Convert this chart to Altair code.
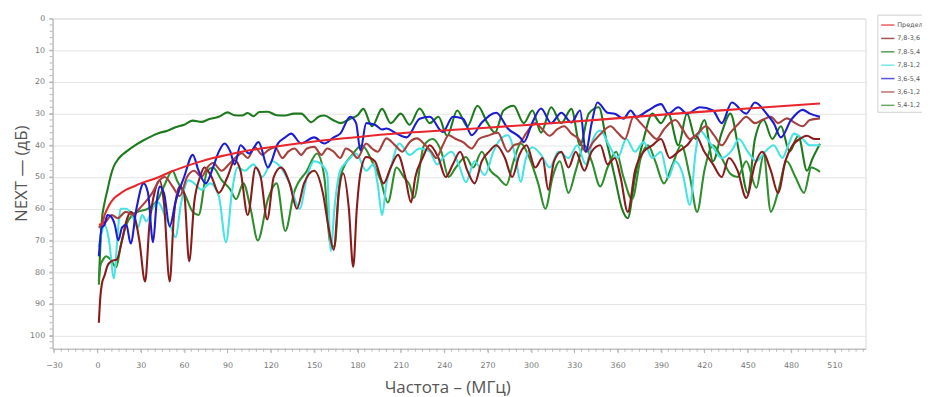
import altair as alt
import pandas as pd

# ---------------- data ----------------
NAMES = ["Предел", "7,8-3,6", "7,8-5,4", "7,8-1,2", "3,6-5,4", "3,6-1,2", "5,4-1,2"]
COLORS = ["#e8262b", "#8a1b1b", "#1e7a1e", "#45e3e3", "#1c1cd2", "#a5423d", "#2e8e2e"]

X_TICKS = list(range(-30, 511, 30))
Y_TICKS = list(range(0, 101, 10))

LIMIT_F = [1, 3, 5, 8, 11, 15, 20, 25, 30, 40, 50, 60, 70, 80, 90, 100, 125, 150, 175, 200, 250, 300, 350, 400, 450, 500]
LIMIT_DB = [65, 65, 62, 59, 57, 55.5, 54, 53, 52, 50.5, 48.5, 46.8, 45.3, 44, 43, 42, 40.3, 38.8, 37.6, 36.5, 35, 33.5, 31.8, 30, 28.4, 26.8]

P7854_F = [1, 2, 3, 5, 7, 9, 11, 15, 20, 26, 32, 38, 43, 48, 54, 60, 66, 72, 77, 84,
           90, 95, 100, 104, 108, 112, 118, 124, 130, 136, 141, 148, 153, 157, 163, 168, 175, 180, 184, 190,
           197, 203, 210, 216, 223, 230, 236, 242, 249, 256, 263, 270, 275, 281, 288, 295, 301, 307, 314, 321,
           328, 334, 340, 347, 352, 358, 363, 367, 372, 378, 384, 390, 395, 402, 408, 414, 420, 426, 432, 438,
           444, 450, 455, 461, 467, 473, 479, 485, 491, 495, 500]
P7854_DB = [83, 72, 64, 58, 54, 50, 47, 44, 42, 40, 38.4, 37, 36, 35.5, 34.3, 33.5, 32.2, 32.6, 31.8, 31,
            29.6, 30.5, 30.6, 29.8, 30.8, 29.5, 29.4, 30.5, 30.6, 30, 30, 32.7, 31, 30.6, 32, 33, 31.6, 30.5, 28.5, 34,
            28.5, 33, 30, 33.5, 28.4, 33, 31, 37, 29, 34, 27.5, 33, 36, 29, 27.5, 33, 29, 36, 28, 33,
            28.5, 40, 30, 28, 38, 50, 60, 63, 50, 38, 30, 33, 30, 40, 30, 38, 32, 45, 36, 30,
            42, 55, 38, 32, 38, 34, 42, 37, 48, 44, 39.5]

P5412_F = [1, 2, 4, 6, 9, 13, 16, 19.6, 24, 28, 35, 42, 46, 52, 55, 61, 66, 70, 76, 80,
           86, 92, 96, 101, 106, 111, 118, 124, 130, 136, 145, 152, 157, 161, 164, 168, 177, 183, 190, 196,
           201, 207, 212, 216, 219, 226, 232, 238, 243, 248, 255, 260, 266, 272, 277, 283, 288, 293, 299, 305,
           310, 315, 320, 326, 331, 337, 342, 348, 353, 359, 364, 370, 376, 381, 386, 392, 398, 404, 410, 415,
           420, 426, 432, 438, 443, 449, 456, 461, 466, 471, 477, 483, 489, 494, 500]
P5412_DB = [84, 78, 76, 75, 76, 78.5, 72, 65.6, 62, 61, 60, 57, 53, 48, 51, 56, 61, 62, 48, 47,
            51, 54, 57, 52, 60, 70, 57, 52, 67, 55, 48, 42.6, 50, 70.6, 72, 50, 42.6, 40, 45, 51,
            58, 47, 50, 52.5, 56.6, 40, 38, 42, 50, 47, 43.7, 47, 42, 48, 50, 52.5, 45, 39.4, 44, 52,
            60, 50, 45, 55, 48, 40, 45, 53, 47, 42, 50, 57, 44, 40, 45, 52, 46, 40, 50, 61,
            48, 40, 44, 49, 50, 45, 53.4, 43, 61, 54.7, 45, 50, 55, 47, 48.4]

P7812_F = [1, 3, 5, 8, 11.5, 14, 16, 20, 24, 28, 31, 34, 38, 42, 47, 51, 54, 58, 63, 67,
           72, 78, 84, 89, 93, 97, 102, 108, 114, 121, 127, 133, 140, 145, 150, 155, 159, 161.5, 164, 168,
           173, 179, 186, 191, 194, 197, 200, 203, 209, 216, 223, 230, 235, 239, 245, 250, 255, 261, 268, 274,
           279, 284, 289, 293, 296, 301, 307, 313, 319, 326, 332, 338, 343, 348, 354, 360, 366, 372, 378, 384,
           390, 395, 400, 405, 410, 414, 417, 422, 426, 432, 439, 444, 450, 456, 462, 468, 474, 478, 482, 488,
           493, 500]
P7812_DB = [72, 67.5, 65, 70, 82, 68, 60, 60, 62, 66, 62, 64, 60, 58, 62.5, 66, 69, 58, 51, 52,
            54, 52, 56, 70.6, 55, 47, 48, 46, 50, 45, 47, 52, 60, 50, 45, 46, 49, 73.4, 60, 48,
            45, 42.6, 48, 46, 52.5, 62, 52, 47, 39.4, 43, 41, 42, 46, 44, 42, 46, 51.6, 45, 49.4, 42,
            38, 36.8, 43, 51.6, 45, 40.6, 43, 47, 42, 44, 40, 46, 38, 35.3, 40, 44, 38, 42, 39, 44,
            42, 50.3, 45, 49, 58.8, 42, 35.3, 38, 40.6, 44, 41.6, 38, 42, 45, 42, 40, 44, 40, 36.3, 38,
            40, 40]

P3654_F = [1, 3, 5, 7, 9.5, 12, 14.5, 17, 20, 23, 27, 32, 35, 38.5, 41, 43, 46, 50, 54, 60,
           66, 70, 75, 80, 84, 88, 92, 95, 99, 105, 111.5, 118, 125, 130, 134, 141, 150, 157, 163.5, 168,
           175, 179, 182, 186, 192, 197, 200, 207, 214, 223, 230, 239, 246, 253, 259, 266, 276, 284, 293, 295,
           301, 307, 314, 321, 328, 334, 338, 342, 346, 353, 358, 364, 369, 373, 381, 390, 395, 402, 408, 417,
           426, 432, 439, 449, 455, 463, 468, 473, 480, 488, 493, 500]
P3654_DB = [75, 66, 65, 62, 62.5, 65, 70, 66, 65, 71, 60, 52, 55, 70.6, 58, 53, 55, 65.6, 58, 50,
            43, 48, 52, 47, 42, 39.4, 42, 46, 40, 42.6, 39, 47, 39.4, 37.5, 36.3, 39.4, 37.5, 39.4, 37.5, 36.3,
            31, 33, 41.6, 33, 33.5, 35, 34.7, 36.3, 37.5, 31.6, 31, 35.8, 31, 31.6, 36.8, 32.8, 29.7, 34.7, 37.8, 39,
            32.8, 28.4, 33, 29.7, 32.8, 29, 42, 33, 26.5, 29.7, 30, 31.6, 29, 31, 29, 27, 30, 28, 30, 28,
            29, 33, 26.5, 30, 26.5, 30, 33, 37.5, 32, 28.8, 30, 31]

P7836_F = [1, 2, 3, 5, 7, 9.5, 13.5, 17, 20, 23, 26, 29, 33, 36, 40, 43, 46, 50, 53, 57,
           60, 63.5, 67, 71, 74, 79, 84, 90, 95, 99, 104, 109.5, 113, 117.5, 122, 127, 133, 138, 143, 150,
           156, 160, 163.5, 167, 170, 174, 177, 179.5, 182, 186, 192, 198, 203, 208, 213, 217, 220, 225, 230, 236,
           241, 246, 251, 256, 261, 266, 271, 276, 282, 287, 292, 297, 303, 308, 312, 316, 321, 326, 331, 337,
           342, 348, 353, 358, 362, 367, 372, 378, 384, 390, 396, 402, 408, 414, 420, 426, 432, 437, 443, 449,
           455, 460, 466, 471, 476, 481, 486, 491, 496, 500]
P7836_DB = [96, 88, 84, 81, 78, 76.6, 76, 70, 64, 61, 63, 70, 83, 65, 54, 51, 58, 83, 62, 53,
            55, 76.6, 58, 50, 47, 50, 55, 50, 44.7, 48, 62, 47, 50, 63.4, 50, 47, 52, 60, 52, 48,
            55, 66, 73, 55, 48.8, 60, 78.4, 60, 48.8, 43.7, 45, 52, 47, 43, 50, 58, 50, 44, 40, 44,
            50, 46, 42, 48, 52, 45, 42, 40, 44, 50, 43, 40, 47, 44, 54, 45, 42, 47, 42, 48,
            42, 40, 46, 44, 50, 61, 48, 42, 40, 38, 44, 42, 40, 37, 42, 46, 50, 44, 48, 56.6,
            46, 42, 48, 55, 45, 40, 38, 37, 38, 38]

P3612_F = [1, 3, 6, 10, 14, 19.6, 25, 29, 33, 38, 43, 46.6, 52, 57, 62, 67, 72, 76, 80, 86,
           91, 96, 100, 104, 109, 114, 118, 123, 128, 132, 136.5, 141, 145, 150, 155, 159, 163.5, 168, 172, 176,
           180, 186, 190, 194, 200, 206, 211, 216, 221, 227, 231, 234.5, 239, 243, 248, 253, 259, 264, 270, 277,
           284, 288, 292, 297, 303, 308, 313, 318, 323, 328, 333, 338, 343, 349, 355, 360, 365, 371, 376, 382,
           387, 392, 396, 400, 405, 410, 416, 421, 427, 432, 438, 444, 449, 455, 460, 466, 471, 477, 483, 488,
           493, 500]
P3612_DB = [66, 65, 64, 62, 63, 61, 62, 60, 58, 55, 51, 50, 53, 56, 50, 48, 50, 47, 45.6, 48,
            46, 43.7, 42.5, 44, 40.6, 43, 41.6, 40.6, 44, 42, 41, 43, 41, 40.5, 43, 41, 42, 44, 41, 42,
            44, 39.4, 41, 42, 37.8, 40, 42, 39, 37.8, 40, 42, 44, 40, 36.8, 38, 39, 41, 38, 37, 36,
            42, 40, 39.4, 36, 33, 35, 37, 35, 34, 36.3, 38, 42, 39, 36, 34, 36, 38, 31, 33, 36,
            38, 35, 33, 32, 35, 38, 36, 34, 37, 40, 36, 33, 31, 33, 32, 31, 33, 31.5, 33, 34,
            32, 31.5]

# drawing order (first drawn at the bottom)
SERIES = [
    ("7,8-5,4", P7854_F, P7854_DB),
    ("5,4-1,2", P5412_F, P5412_DB),
    ("7,8-1,2", P7812_F, P7812_DB),
    ("7,8-3,6", P7836_F, P7836_DB),
    ("3,6-1,2", P3612_F, P3612_DB),
    ("3,6-5,4", P3654_F, P3654_DB),
    ("Предел", LIMIT_F, LIMIT_DB),
]

rows = []
for k, (name, fs, ds) in enumerate(SERIES):
    if len(fs) != len(ds):
        raise ValueError(f"length mismatch in {name}: {len(fs)} vs {len(ds)}")
    for f, d in zip(fs, ds):
        rows.append({"series": name, "f": f, "db": d, "k": k})
df = pd.DataFrame(rows)

minor_x = pd.DataFrame({"f": list(range(-30, 531, 5))})
minor_y = pd.DataFrame({"db": list(range(0, 105, 2))})

W, H = 820, 333
X_DOMAIN = [-31, 531.5]
Y_DOMAIN = [0, 104.2]

xscale = alt.Scale(domain=X_DOMAIN, nice=False, zero=False)
yscale = alt.Scale(domain=Y_DOMAIN, reverse=True, nice=False, zero=False)

x_axis = alt.Axis(values=X_TICKS, grid=False, title="Частота – (МГц)",
                  titleX=398, titleY=44, titleAlign="center", titleBaseline="alphabetic",
                  labelPadding=9, tickSize=4)
y_axis = alt.Axis(values=Y_TICKS, grid=True, title="NEXT — (дБ)",
                  titleX=-31, titleY=156, titleAngle=-90, titleAlign="center",
                  titleBaseline="middle", labelPadding=4, tickSize=4)

lines = alt.Chart(df).mark_line(strokeWidth=2.1, interpolate="monotone").encode(
    x=alt.X("f:Q", scale=xscale, axis=x_axis),
    y=alt.Y("db:Q", scale=yscale, axis=y_axis),
    color=alt.Color("series:N",
                    scale=alt.Scale(domain=NAMES, range=COLORS),
                    legend=alt.Legend(title=None, orient="none", legendX=832, legendY=-4,
                                      symbolType="stroke", symbolSize=180, symbolStrokeWidth=1.5,
                                      symbolOpacity=0.75,
                                      labelFont="DejaVu Sans", labelFontSize=6.5, labelColor="#555555",
                                      labelOffset=2, rowPadding=2.5, padding=3,
                                      strokeColor="#cfcfcf", fillColor="#ffffff")),
    detail="k:N",
    order="f:Q",
)

xticks = alt.Chart(minor_x).mark_rule(color="#b5b5b5", strokeWidth=1).encode(
    x=alt.X("f:Q", scale=xscale, axis=x_axis),
    y=alt.value(H), y2=alt.value(H + 3),
)
yticks = alt.Chart(minor_y).mark_rule(color="#b5b5b5", strokeWidth=1).encode(
    y=alt.Y("db:Q", scale=yscale, axis=y_axis),
    x=alt.value(-3), x2=alt.value(0),
)

chart = alt.layer(lines, xticks, yticks).properties(
    width=W, height=H,
    autosize=alt.AutoSizeParams(type="none"),
    padding={"left": 45, "top": 9, "right": 57, "bottom": 47},
).configure_view(
    stroke="#d8d8d8"
).configure_axis(
    domainColor="#b0b0b0", tickColor="#b0b0b0", gridColor="#e4e4e4",
    labelColor="#777777", labelFont="DejaVu Sans", labelFontSize=8,
    titleColor="#555555", titleFont="Open Sans", titleFontSize=17, titleFontWeight="normal",
)

chart.save("out.html", embed_options={"renderer": "svg", "actions": False})
